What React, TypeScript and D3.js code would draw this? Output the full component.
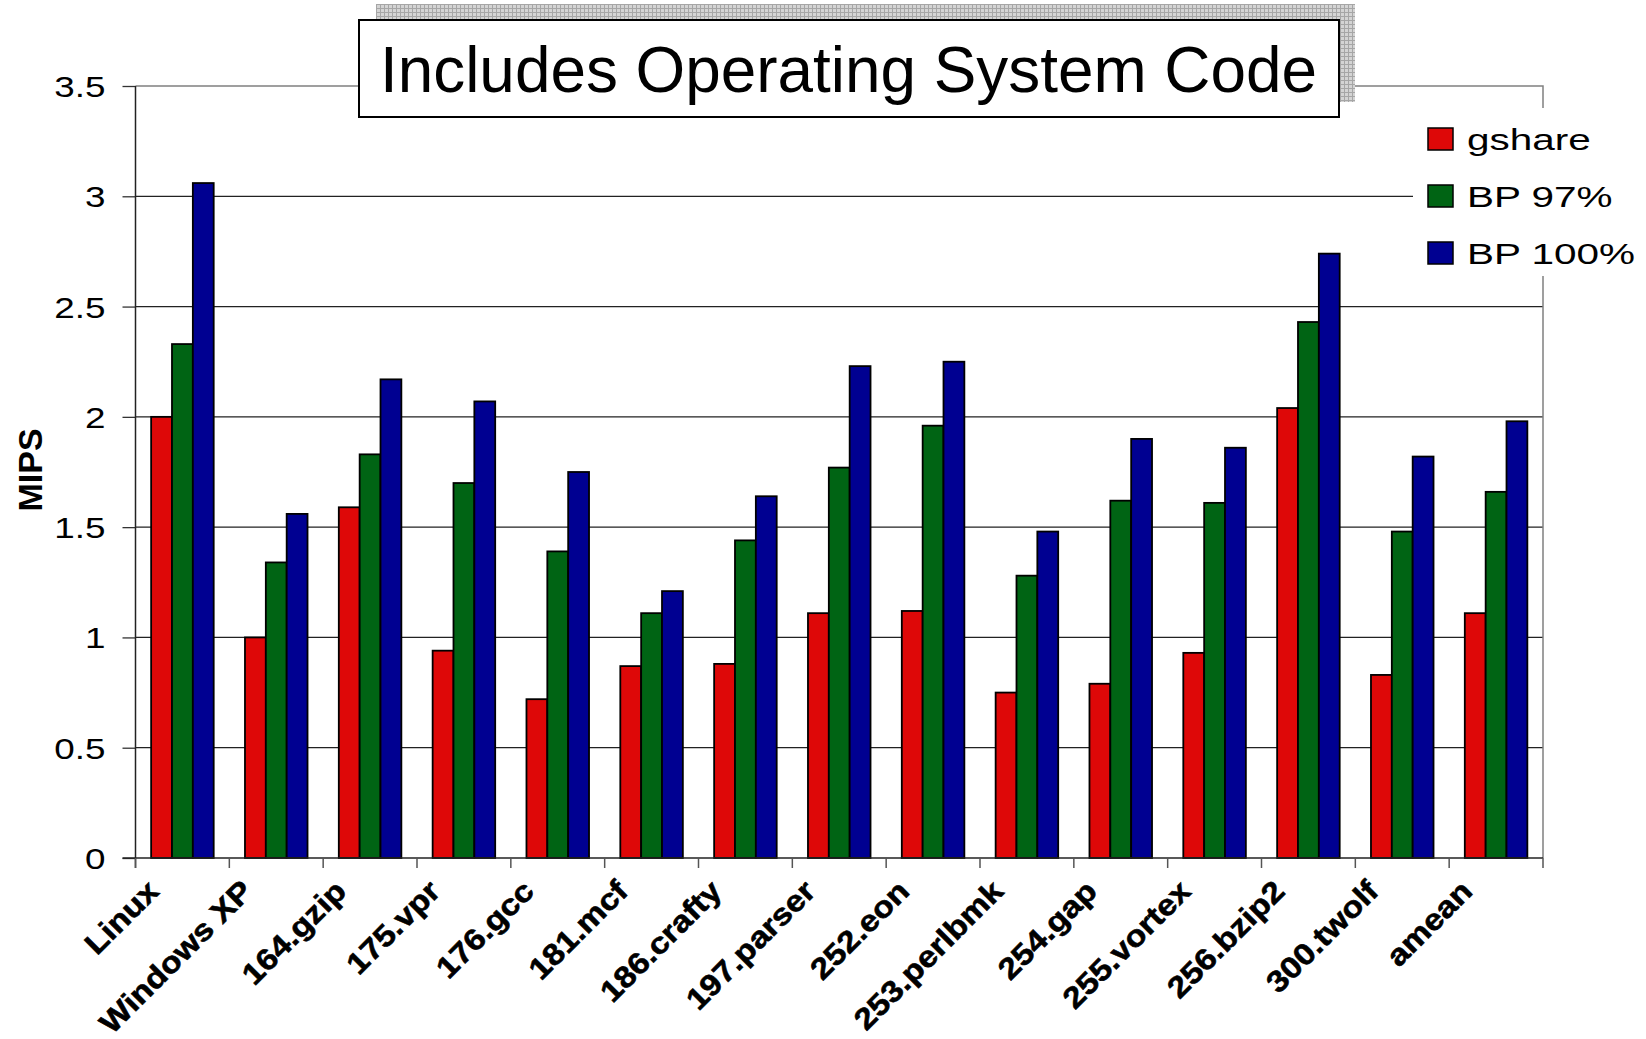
import React, { useRef, useEffect } from "react";
import * as d3 from "d3";

const categories = [
  "Linux", "Windows XP", "164.gzip", "175.vpr", "176.gcc", "181.mcf", "186.crafty",
  "197.parser", "252.eon", "253.perlbmk", "254.gap", "255.vortex", "256.bzip2", "300.twolf", "amean",
];
const seriesNames = ["gshare", "BP 97%", "BP 100%"];
const gshare = [2.0, 1.0, 1.59, 0.94, 0.72, 0.87, 0.88, 1.11, 1.12, 0.75, 0.79, 0.93, 2.04, 0.83, 1.11];
const bp97 = [2.33, 1.34, 1.83, 1.70, 1.39, 1.11, 1.44, 1.77, 1.96, 1.28, 1.62, 1.61, 2.43, 1.48, 1.66];
const bp100 = [3.06, 1.56, 2.17, 2.07, 1.75, 1.21, 1.64, 2.23, 2.25, 1.48, 1.90, 1.86, 2.74, 1.82, 1.98];
const yTicks = [0, 0.5, 1, 1.5, 2, 2.5, 3, 3.5];
const titleText = "Includes Operating System Code";
const yAxisLabelText = "MIPS";
const colors = ["#de0808", "#006414", "#000091"];

const FONT = "'Liberation Sans', Arial, Helvetica, sans-serif";

function App() {
  const ref = useRef(null);

  const renderD3 = () => {
    const svg = d3.select(ref.current);
    svg.selectAll("*").remove();

    const left = 135.5;
    const right = 1543;
    const top = 86;
    const bottom = 858;

    const series = [gshare, bp97, bp100];
    const dataset = categories.map((c, i) => ({
      cat: c,
      values: series.map((s, k) => ({ key: seriesNames[k], value: s[i], k })),
    }));

    const x = d3.scaleBand().domain(categories).range([left, right]).padding(0);
    // excel style: gap width 150% => bars take 3 / 4.5 of the band
    const inner = d3
      .scaleBand()
      .domain(seriesNames)
      .range([x.bandwidth() * 0.75 / 4.5, x.bandwidth() - x.bandwidth() * 0.75 / 4.5]);
    const y = d3.scaleLinear().domain([0, 3.5]).range([bottom, top]);

    const defs = svg.append("defs");
    const pat = defs
      .append("pattern")
      .attr("id", "hatch")
      .attr("width", 4)
      .attr("height", 4)
      .attr("patternUnits", "userSpaceOnUse");
    pat.append("rect").attr("width", 4).attr("height", 4).attr("fill", "#d4d4d4");
    pat.append("path").attr("d", "M0 0.5H4M0.5 0V4").attr("stroke", "#a6a6a6").attr("stroke-width", 1);

    // gridlines
    svg
      .append("g")
      .selectAll("line")
      .data(yTicks.filter((t) => t > 0 && t < 3.5))
      .enter()
      .append("line")
      .attr("x1", left)
      .attr("x2", right)
      .attr("y1", (d) => y(d))
      .attr("y2", (d) => y(d))
      .attr("stroke", "#222")
      .attr("stroke-width", 1.3);

    // plot border (top and right, gray)
    svg
      .append("path")
      .attr("d", `M${left},${y(3.5)}H${right}V${bottom}`)
      .attr("fill", "none")
      .attr("stroke", "#808080")
      .attr("stroke-width", 1.5);

    // bars
    const groups = svg
      .append("g")
      .selectAll("g")
      .data(dataset)
      .enter()
      .append("g")
      .attr("transform", (d) => `translate(${x(d.cat)},0)`);

    groups
      .selectAll("rect")
      .data((d) => d.values)
      .enter()
      .append("rect")
      .attr("x", (d) => inner(d.key))
      .attr("y", (d) => y(d.value))
      .attr("width", inner.bandwidth())
      .attr("height", (d) => y(0) - y(d.value))
      .attr("fill", (d) => colors[d.k])
      .attr("stroke", "#000")
      .attr("stroke-width", 1.8);

    // y axis
    const yAxis = d3
      .axisLeft(y)
      .tickValues(yTicks)
      .tickSize(13)
      .tickPadding(0)
      .tickFormat((d) => String(d));
    const yAxisG = svg.append("g").attr("transform", `translate(${left},0)`).call(yAxis);
    yAxisG.select(".domain").remove();
    yAxisG.selectAll(".tick line").attr("stroke", "#333").attr("stroke-width", 1.3);
    yAxisG
      .selectAll(".tick text")
      .attr("x", null)
      .attr("dy", null)
      .attr("transform", "translate(-30,10.5) scale(1.27,1)")
      .attr("text-anchor", "end")
      .attr("font-family", FONT)
      .attr("font-size", 29)
      .attr("fill", "#000");

    svg
      .append("line")
      .attr("x1", left)
      .attr("x2", left)
      .attr("y1", y(3.5))
      .attr("y2", bottom + 10)
      .attr("stroke", "#222")
      .attr("stroke-width", 1.5);

    // x axis line + category boundary ticks
    svg
      .append("line")
      .attr("x1", left - 13)
      .attr("x2", right)
      .attr("y1", bottom)
      .attr("y2", bottom)
      .attr("stroke", "#222")
      .attr("stroke-width", 1.5);

    const bounds = categories.map((c) => x(c)).concat([right]);
    svg
      .append("g")
      .selectAll("line")
      .data(bounds)
      .enter()
      .append("line")
      .attr("x1", (d) => d)
      .attr("x2", (d) => d)
      .attr("y1", bottom)
      .attr("y2", bottom + 10)
      .attr("stroke", "#555")
      .attr("stroke-width", 1.5);

    // x labels
    svg
      .append("g")
      .selectAll("text")
      .data(categories)
      .enter()
      .append("text")
      .attr(
        "transform",
        (d) => `translate(${x(d) + x.bandwidth() / 2 - 22},${bottom + 35}) rotate(-45) scale(1.12,1)`
      )
      .attr("text-anchor", "end")
      .attr("font-family", FONT)
      .attr("font-weight", "bold")
      .attr("font-size", 30)
      .attr("fill", "#000")
      .attr("stroke", "#000")
      .attr("stroke-width", 0.6)
      .text((d) => d);

    // y axis title
    svg
      .append("text")
      .attr("transform", `translate(42,${(428 + 512) / 2}) rotate(-90)`)
      .attr("text-anchor", "middle")
      .attr("font-family", FONT)
      .attr("font-weight", "bold")
      .attr("font-size", 34)
      .attr("fill", "#000")
      .text(yAxisLabelText);

    // title box with hatched shadow
    svg
      .append("rect")
      .attr("x", 376)
      .attr("y", 4)
      .attr("width", 979)
      .attr("height", 98)
      .attr("fill", "url(#hatch)");
    svg
      .append("rect")
      .attr("x", 359)
      .attr("y", 20)
      .attr("width", 980)
      .attr("height", 97)
      .attr("fill", "#fff")
      .attr("stroke", "#000")
      .attr("stroke-width", 2);
    svg
      .append("text")
      .attr("x", 380)
      .attr("y", 92)
      .attr("textLength", 937)
      .attr("lengthAdjust", "spacingAndGlyphs")
      .attr("font-family", FONT)
      .attr("font-size", 65)
      .attr("fill", "#000")
      .text(titleText);

    // legend
    svg
      .append("rect")
      .attr("x", 1413)
      .attr("y", 108)
      .attr("width", 233)
      .attr("height", 168)
      .attr("fill", "#fff");
    const leg = svg
      .append("g")
      .selectAll("g")
      .data(seriesNames)
      .enter()
      .append("g")
      .attr("transform", (d, i) => `translate(1428,${128 + i * 57})`);
    leg
      .append("rect")
      .attr("width", 25)
      .attr("height", 22)
      .attr("fill", (d, i) => colors[i])
      .attr("stroke", "#000")
      .attr("stroke-width", 1.5);
    leg
      .append("text")
      .attr("transform", "translate(39,22) scale(1.35,1)")
      .attr("font-family", FONT)
      .attr("font-size", 30)
      .attr("fill", "#000")
      .text((d) => d);
  };

  useEffect(() => {
    renderD3();
  });

  return (
    <div style={{ position: "absolute", left: 0, top: 0 }}>
      <svg ref={ref} width="1646" height="1039" style={{ display: "block", background: "#fff" }}></svg>
    </div>
  );
}

export default App;
